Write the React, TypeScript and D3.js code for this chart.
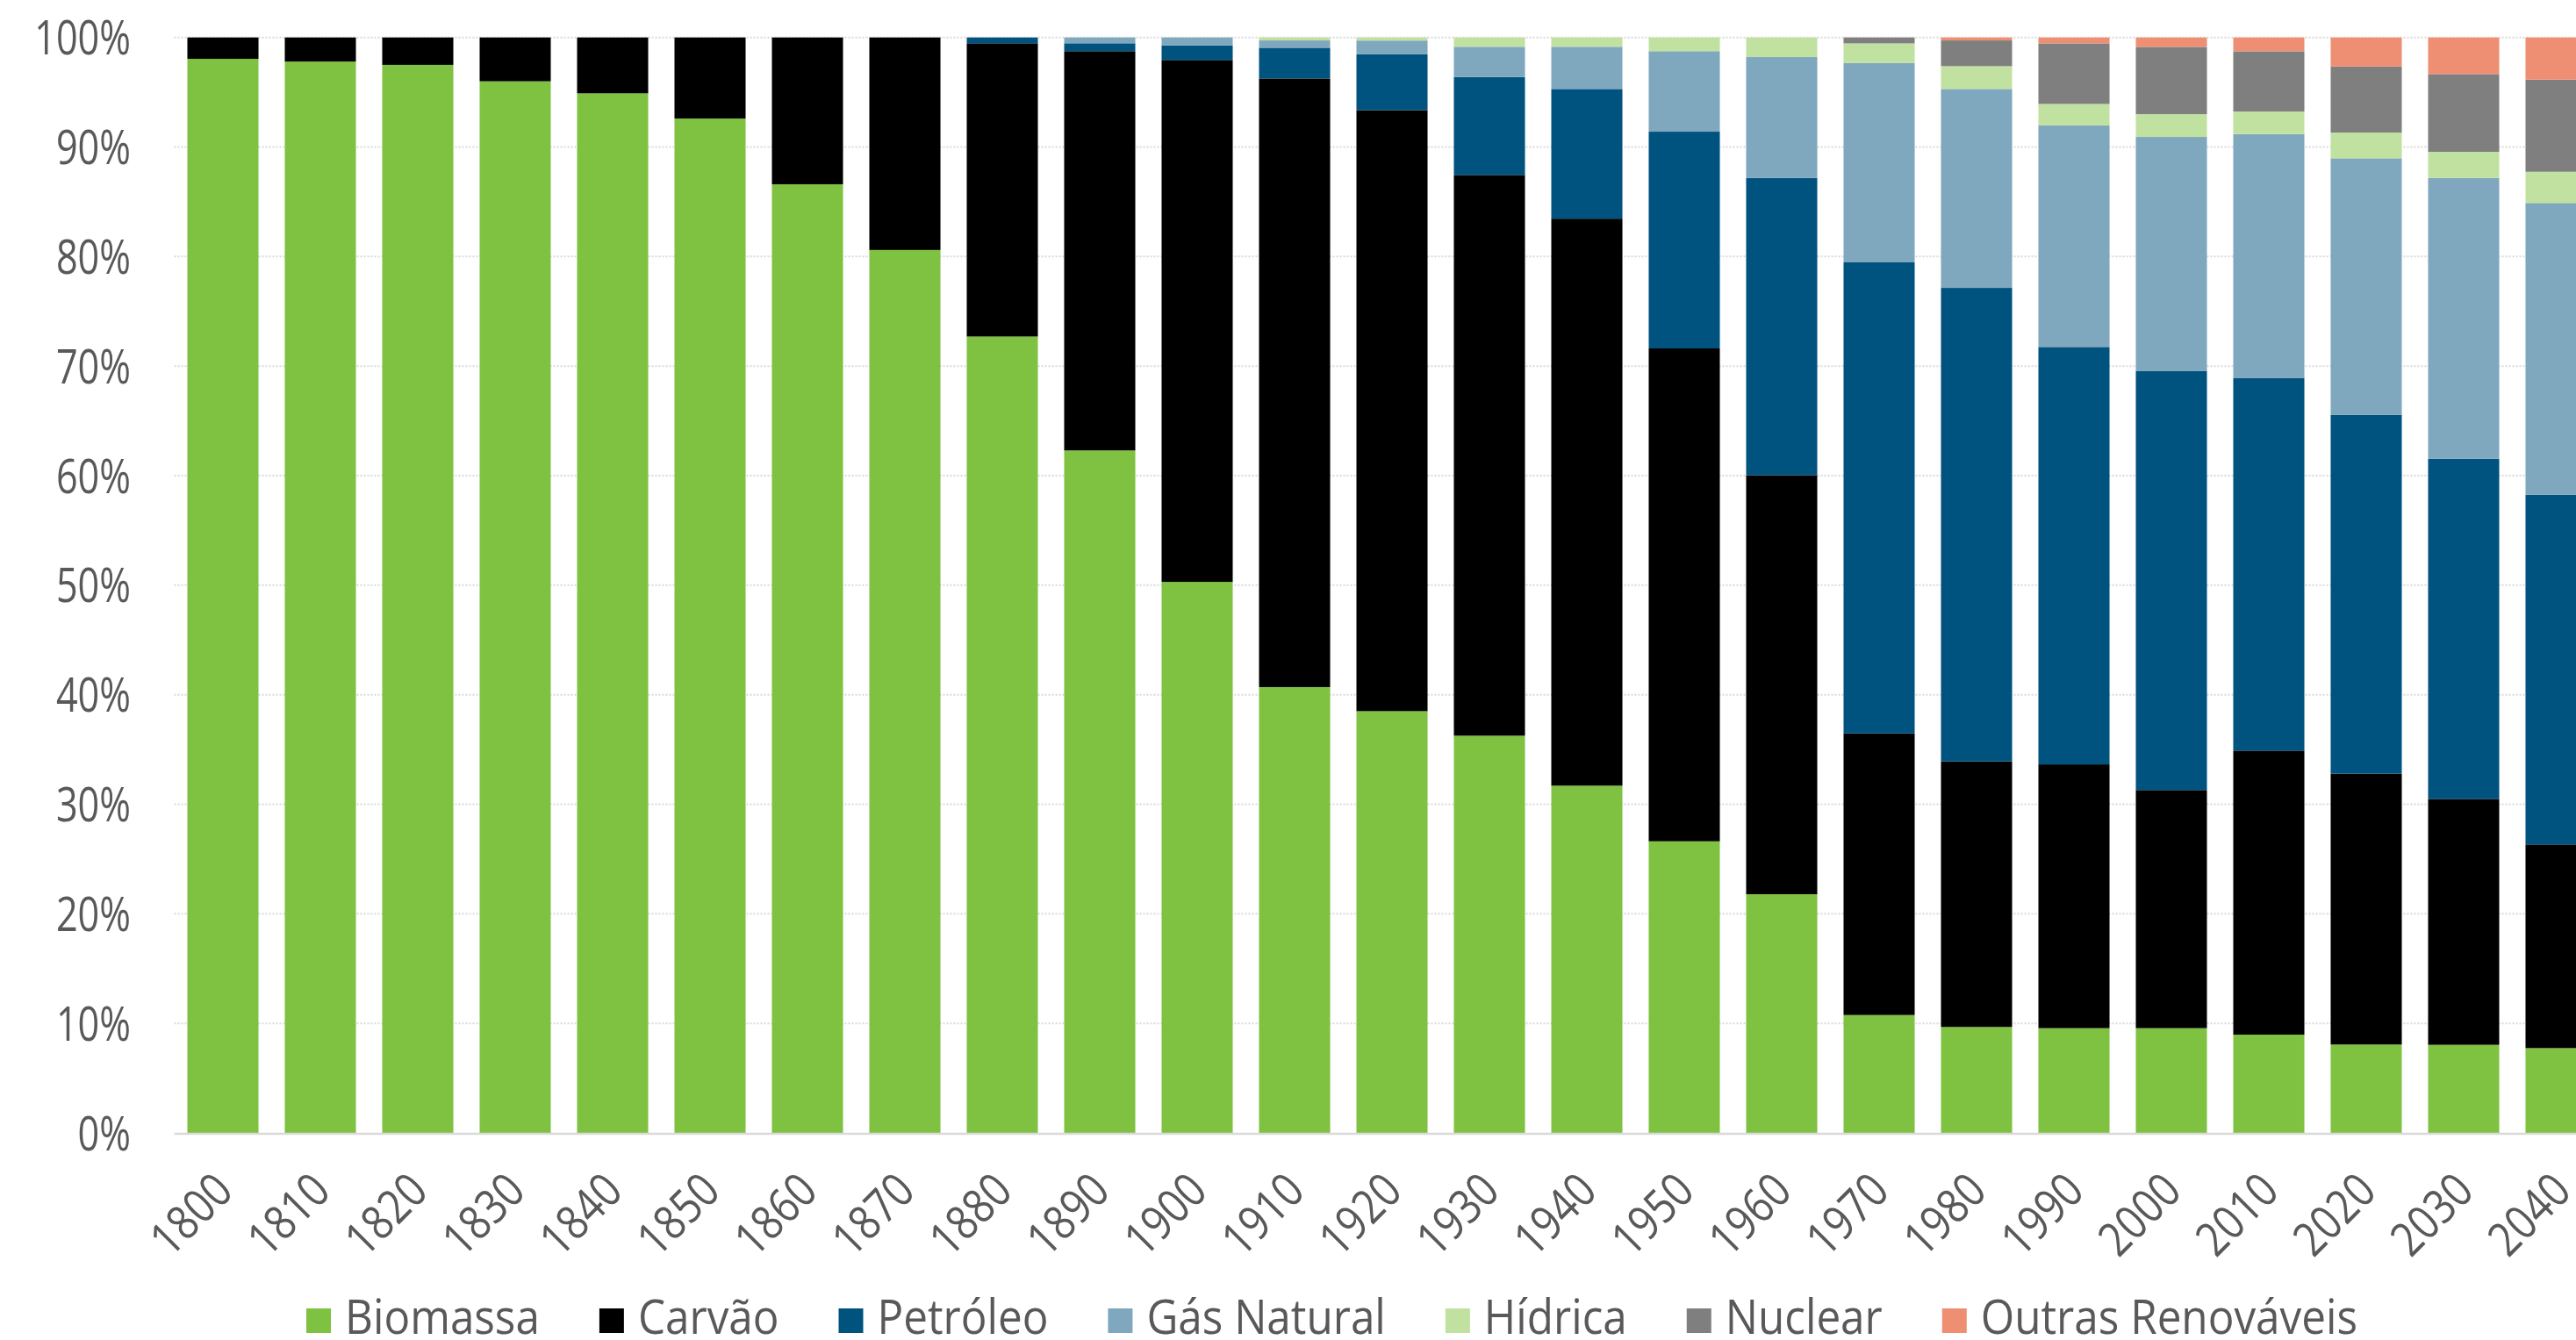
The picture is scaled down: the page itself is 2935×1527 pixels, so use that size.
import React, { useEffect, useRef } from "react";
import * as d3 from "d3";

// Decades shown on the category axis
const years = [
  "1800", "1810", "1820", "1830", "1840", "1850", "1860", "1870", "1880", "1890",
  "1900", "1910", "1920", "1930", "1940", "1950", "1960", "1970", "1980", "1990",
  "2000", "2010", "2020", "2030", "2040",
];

// Share of primary energy by source (%)
const biomassa = [98.05, 97.8, 97.5, 96.0, 94.9, 92.6, 86.6, 80.6, 72.7, 62.3, 50.3, 40.7, 38.5, 36.26, 31.7, 26.62, 21.79, 10.76, 9.67, 9.56, 9.56, 8.97, 8.07, 8.04, 7.74];
const carvao = [1.95, 2.2, 2.5, 4.0, 5.1, 7.4, 13.4, 19.4, 26.77, 36.45, 47.65, 55.56, 54.87, 51.19, 51.76, 45.0, 38.25, 25.71, 24.24, 24.08, 21.74, 25.93, 24.72, 22.45, 18.59];
const petroleo = [0, 0, 0, 0, 0, 0, 0, 0, 0.53, 0.72, 1.33, 2.8, 5.1, 8.94, 11.84, 19.78, 27.14, 43.0, 43.23, 38.11, 38.27, 34.0, 32.77, 31.05, 31.93];
const gasNatural = [0, 0, 0, 0, 0, 0, 0, 0, 0, 0.53, 0.72, 0.67, 1.25, 2.76, 3.85, 7.35, 11.03, 18.2, 18.16, 20.23, 21.35, 22.28, 23.41, 25.64, 26.63];
const hidrica = [0, 0, 0, 0, 0, 0, 0, 0, 0, 0, 0, 0.27, 0.28, 0.85, 0.85, 1.25, 1.79, 1.79, 2.08, 1.95, 2.08, 2.06, 2.35, 2.38, 2.85];
const nuclear = [0, 0, 0, 0, 0, 0, 0, 0, 0, 0, 0, 0, 0, 0, 0, 0, 0, 0.54, 2.35, 5.53, 6.14, 5.5, 6.03, 7.1, 8.41];
const outras = [0, 0, 0, 0, 0, 0, 0, 0, 0, 0, 0, 0, 0, 0, 0, 0, 0, 0, 0.27, 0.54, 0.86, 1.26, 2.65, 3.34, 3.85];

const seriesNames = ["Biomassa", "Carvão", "Petróleo", "Gás Natural", "Hídrica", "Nuclear", "Outras Renováveis"];
const seriesValues = [biomassa, carvao, petroleo, gasNatural, hidrica, nuclear, outras];
const seriesColors = ["#7fc241", "#000000", "#00527f", "#7fa7bd", "#c1e1a0", "#7f7f7f", "#ee8f73"];

const yTicks = [0, 10, 20, 30, 40, 50, 60, 70, 80, 90, 100];

const W = 2935;
const H = 1527;
const FONT = '"Open Sans", "Noto Sans", sans-serif';
const TEXT = "#595959";

export default function App() {
  const ref = useRef<SVGSVGElement | null>(null);

  useEffect(() => {
    const svg = d3.select(ref.current);
    svg.selectAll("*").remove();

    const rows = years.map((yr, i) => {
      const r: Record<string, any> = { year: yr };
      seriesNames.forEach((n, k) => (r[n] = seriesValues[k][i]));
      return r;
    });

    const stacked = d3.stack<any>().keys(seriesNames).offset(d3.stackOffsetExpand)(rows);

    const x = d3
      .scaleBand<string>()
      .domain(years)
      .range([198.5, 2973.5])
      .paddingInner(0.27)
      .paddingOuter(0.135);

    const y = d3.scaleLinear().domain([0, 100]).range([1291, 42.7]);

    // dotted horizontal gridlines
    svg
      .append("g")
      .selectAll("line")
      .data(yTicks.filter((t) => t > 0))
      .join("line")
      .attr("x1", 198.5)
      .attr("x2", W)
      .attr("y1", (d) => y(d))
      .attr("y2", (d) => y(d))
      .attr("stroke", "#d9d9d9")
      .attr("stroke-width", 2)
      .attr("stroke-dasharray", "2,2");

    // stacked bars
    svg
      .append("g")
      .selectAll("g")
      .data(stacked)
      .join("g")
      .attr("fill", (_d, i) => seriesColors[i])
      .selectAll("rect")
      .data((d) => d)
      .join("rect")
      .attr("x", (d: any) => x(d.data.year) as number)
      .attr("width", x.bandwidth())
      .attr("y", (d: any) => y(d[1] * 100))
      .attr("height", (d: any) => Math.max(0, y(d[0] * 100) - y(d[1] * 100)));

    // category axis line
    svg
      .append("line")
      .attr("x1", 198.5)
      .attr("x2", W)
      .attr("y1", 1292)
      .attr("y2", 1292)
      .attr("stroke", "#d9d9d9")
      .attr("stroke-width", 2.5);

    // value axis labels
    svg
      .append("g")
      .selectAll("text")
      .data(yTicks)
      .join("text")
      .attr("transform", (d) => `translate(149,${y(d) + 19.5}) scale(0.8,1)`)
      .attr("text-anchor", "end")
      .attr("font-family", FONT)
      .attr("font-size", 54)
      .attr("fill", TEXT)
      .text((d) => `${d}%`);

    // rotated year labels
    svg
      .append("g")
      .selectAll("text")
      .data(years)
      .join("text")
      .attr(
        "transform",
        (d) => `translate(${(x(d) as number) + x.bandwidth() / 2 + 14},1360) rotate(-45) scale(0.85,1)`
      )
      .attr("text-anchor", "end")
      .attr("font-family", FONT)
      .attr("font-size", 54)
      .attr("fill", TEXT)
      .text((d) => d);

    // legend
    const legendScale = 0.915;
    const legend = svg.append("g");
    const items = seriesNames.map((name, i) => {
      const g = legend.append("g");
      g.append("rect")
        .attr("x", 0)
        .attr("y", 1491)
        .attr("width", 28)
        .attr("height", 28)
        .attr("fill", seriesColors[i]);
      const t = g
        .append("text")
        .attr("transform", `translate(44,1520) scale(${legendScale},1)`)
        .attr("font-family", FONT)
        .attr("font-size", 54)
        .attr("fill", TEXT)
        .text(name);
      const w = 44 + (t.node() as SVGTextElement).getComputedTextLength() * legendScale;
      return { g, w };
    });
    const gap = 68;
    const total = items.reduce((s, it) => s + it.w, 0) + gap * (items.length - 1);
    let cx = 1517.5 - total / 2;
    items.forEach((it) => {
      it.g.attr("transform", `translate(${cx},0)`);
      cx += it.w + gap;
    });
  }, []);

  return (
    <svg
      ref={ref}
      width={W}
      height={H}
      style={{ position: "absolute", left: 0, top: 0, background: "#fff" }}
    />
  );
}
